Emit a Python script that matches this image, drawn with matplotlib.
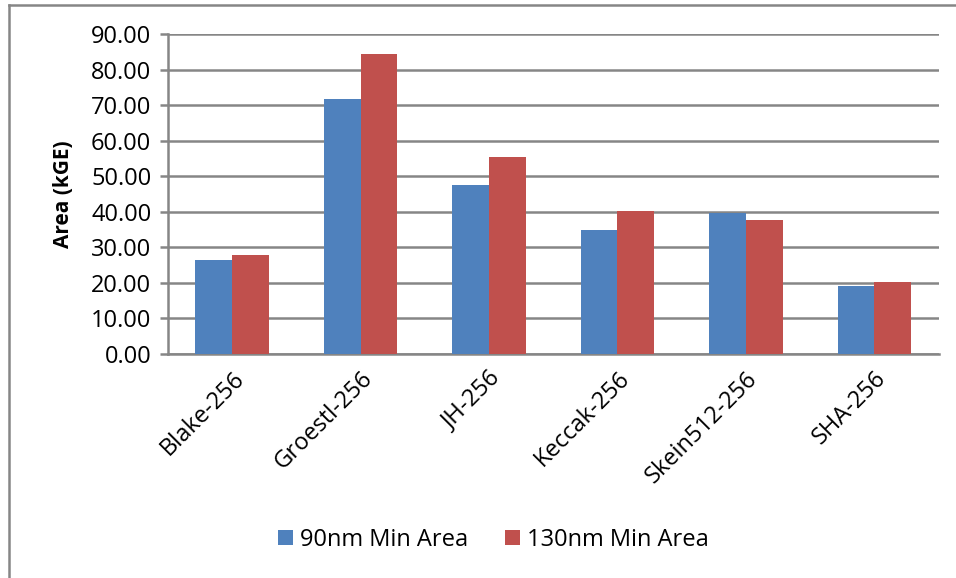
import matplotlib
matplotlib.use("Agg")
import matplotlib.pyplot as plt
from matplotlib.lines import Line2D
import numpy as np

plt.rcParams['font.family'] = ['Open Sans', 'DejaVu Sans']

categories = ["Blake-256", "Groestl-256", "JH-256", "Keccak-256", "Skein512-256", "SHA-256"]
area_90nm = [26.4, 71.7, 47.5, 34.9, 39.7, 19.1]
area_130nm = [27.8, 84.4, 55.3, 40.1, 37.8, 20.4]
series_names = ["90nm Min Area", "130nm Min Area"]
y_ticks = [0, 10, 20, 30, 40, 50, 60, 70, 80, 90]

blue = "#4F81BD"
red = "#C0504D"
grid = "#868686"

fig = plt.figure(figsize=(9.56, 5.78), dpi=100)
ax = fig.add_axes([0.1757, 0.3875, 0.806, 0.5535])

x = np.arange(len(categories))
w = 1 / 3.5
ax.bar(x - w / 2, area_90nm, width=w, color=blue, label=series_names[0], zorder=3)
ax.bar(x + w / 2, area_130nm, width=w, color=red, label=series_names[1], zorder=3)

ax.set_xlim(-0.5, len(categories) - 0.5)
ax.set_ylim(0, 90)
ax.set_yticks(y_ticks)
ax.set_yticklabels([f"{v:.2f}" for v in y_ticks], fontsize=17)
ax.yaxis.grid(True, color=grid, linewidth=1.8, zorder=0)
ax.set_axisbelow(True)

ax.set_xticks(x)
ax.set_xticklabels(categories, rotation=45, ha='right', rotation_mode='anchor', fontsize=17)
ax.tick_params(axis='x', length=0, pad=9)
ax.tick_params(axis='y', length=6, width=1.8, color=grid, pad=6)

for side in ['top', 'right']:
    ax.spines[side].set_visible(False)
ax.spines['left'].set_color(grid)
ax.spines['left'].set_linewidth(1.8)
ax.spines['bottom'].set_color(grid)
ax.spines['bottom'].set_linewidth(1.8)

ax.set_ylabel("Area (kGE)", fontsize=15, fontweight='bold', labelpad=12)

fig.legend(loc='center', bbox_to_anchor=(0.516, 0.066), ncol=2, frameon=False,
           fontsize=17, handlelength=0.63, handleheight=0.63, handletextpad=0.3,
           columnspacing=1.55)

# outer chart border (top and left edges)
fig.add_artist(Line2D([8.5 / 956, 1.0], [1 - 4.5 / 578, 1 - 4.5 / 578],
                      transform=fig.transFigure, color=grid, linewidth=1.8))
fig.add_artist(Line2D([8.5 / 956, 8.5 / 956], [0.0, 1 - 4.5 / 578],
                      transform=fig.transFigure, color=grid, linewidth=1.8))

fig.savefig("out.png", dpi=100)
